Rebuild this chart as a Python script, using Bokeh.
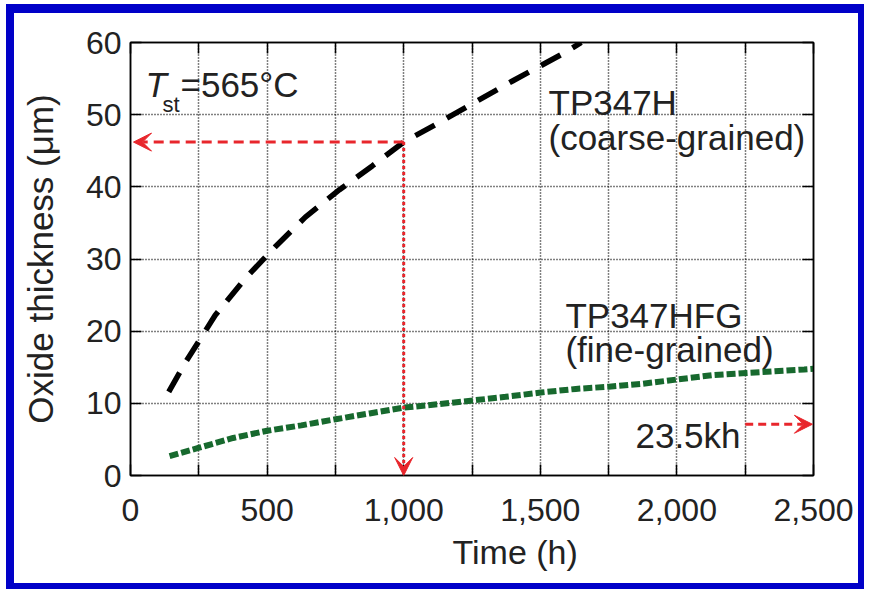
from bokeh.plotting import figure
from bokeh.models import (LinearAxis, FixedTicker, NumeralTickFormatter, Label,
                          Arrow, VeeHead, Range1d, Title)
from bokeh.embed import file_html
from bokeh.resources import INLINE

# ---- data ----
time_coarse = [140, 200, 255, 310, 420, 530, 640, 765, 885, 1000, 1130, 1255, 1400, 1585, 1650]
oxide_coarse = [11.6, 15.6, 18.9, 22.2, 27.3, 31.7, 35.8, 39.6, 42.9, 46.2, 48.9, 51.6, 54.7, 58.5, 60.0]

time_fine = [143, 251, 376, 500, 625, 751, 875, 1000, 1132, 1253, 1373, 1502, 1630,
             1751, 1872, 2000, 2129, 2253, 2466, 2500]
oxide_fine = [2.7, 3.85, 5.2, 6.2, 6.95, 7.8, 8.6, 9.4, 9.9, 10.4, 10.9, 11.5, 12.0,
              12.3, 12.7, 13.3, 13.9, 14.2, 14.7, 14.8]

x_major = [0, 500, 1000, 1500, 2000, 2500]
x_minor = [250, 750, 1250, 1750, 2250]
y_major = [0, 10, 20, 30, 40, 50, 60]

marker_time = 1000
marker_oxide = 46.2
kh_level = 7.1

FONT = "Liberation Sans"
TXT = "#222222"
RED = "#e8262c"
BLUE = "#0000c8"

# The blue frame is drawn with CSS borders (border-box); the canvas starts
# inside the left/top borders, so its size includes the border widths.
p = figure(width=858, height=585, x_range=Range1d(0, 2500), y_range=Range1d(0, 60),
           output_backend="svg", toolbar_location=None,
           min_border_left=116, min_border_right=59, min_border_top=29, min_border_bottom=123)
p.margin = (4, 0, 0, 6)
p.styles = {"border-left": f"8px solid {BLUE}", "border-top": f"9px solid {BLUE}",
            "border-bottom": f"6px solid {BLUE}", "border-right": f"6px solid {BLUE}"}
p.background_fill_color = "white"
p.border_fill_color = "white"
p.outline_line_color = "black"
p.outline_line_width = 1.5

xt = FixedTicker(ticks=x_major, minor_ticks=x_minor)
yt = FixedTicker(ticks=y_major)

def style_axis(ax, show_labels):
    ax.axis_line_color = "black"
    ax.axis_line_width = 1.5
    ax.major_tick_in = 11
    ax.major_tick_out = 0
    ax.minor_tick_in = 11
    ax.minor_tick_out = 0
    ax.major_tick_line_width = 1.5
    ax.minor_tick_line_width = 1.5
    ax.major_tick_line_color = "black"
    ax.minor_tick_line_color = "black"
    ax.major_label_text_font = FONT
    ax.major_label_text_font_size = "32px"
    if show_labels:
        ax.major_label_text_color = TXT
    else:
        ax.major_label_text_color = None
        ax.major_label_standoff = 0

p.xaxis.ticker = xt
p.xaxis.formatter = NumeralTickFormatter(format="0,0")
p.yaxis.ticker = yt
style_axis(p.xaxis[0], True)
style_axis(p.yaxis[0], True)
p.xaxis.major_label_standoff = 23
p.yaxis.major_label_standoff = 9
p.yaxis.axis_label = "Oxide thickness (\u03bcm)"
p.yaxis.axis_label_text_font = FONT
p.yaxis.axis_label_text_font_size = "35px"
p.yaxis.axis_label_text_font_style = "normal"
p.yaxis.axis_label_text_color = TXT
p.yaxis.axis_label_standoff = 23

top_ax = LinearAxis(ticker=xt)
style_axis(top_ax, False)
p.add_layout(top_ax, "above")
right_ax = LinearAxis(ticker=yt)
style_axis(right_ax, False)
p.add_layout(right_ax, "right")

# x axis title, positioned right of centre as in the reference
p.add_layout(Title(text="Time (h)", align="left", offset=322, standoff=14,
                   text_font=FONT, text_font_size="34px", text_font_style="normal",
                   text_color=TXT), "below")

for g in (p.xgrid[0], p.ygrid[0]):
    g.grid_line_color = "black"
    g.grid_line_dash = "1 2"
    g.grid_line_width = 1.5
p.xgrid.minor_grid_line_color = "black"
p.xgrid.minor_grid_line_dash = "1 2"
p.xgrid.minor_grid_line_width = 1.5

# curves
p.line(time_coarse, oxide_coarse, line_color="black", line_width=5.5, line_dash="22 14")
p.line(time_fine, oxide_fine, line_color="#17692e", line_width=6, line_dash="9 3")

# red arrows
def head():
    return VeeHead(size=18, fill_color=RED, line_color=RED, line_width=1)

p.add_layout(Arrow(x_start=marker_time, y_start=marker_oxide, x_end=11, y_end=marker_oxide,
                   line_color=RED, line_width=3, line_dash="10 6", end=head()))
p.add_layout(Arrow(x_start=marker_time, y_start=marker_oxide, x_end=marker_time, y_end=0,
                   line_color=RED, line_width=3, line_dash="3 3", end=head()))
p.add_layout(Arrow(x_start=2250, y_start=kh_level, x_end=2496, y_end=kh_level,
                   line_color=RED, line_width=3, line_dash="8 5", end=head()))

def lab(x, y, text, size="35px", align="left", style="normal"):
    p.add_layout(Label(x=x, y=y, text=text, text_font=FONT, text_font_size=size,
                       text_color=TXT, text_align=align, text_baseline="alphabetic",
                       text_font_style=style))

lab(55, 54.2, "T", style="italic")
lab(117, 51.4, "st", size="22px")
lab(183, 54.2, "=565\u00b0C")
lab(1530, 51.7, "TP347H")
lab(1530, 46.9, "(coarse-grained)")
lab(1592, 22.2, "TP347HFG")
lab(1592, 17.5, "(fine-grained)")
lab(2233, 5.5, "23.5kh", align="right")

open("out.html", "w").write(file_html(p, INLINE))
